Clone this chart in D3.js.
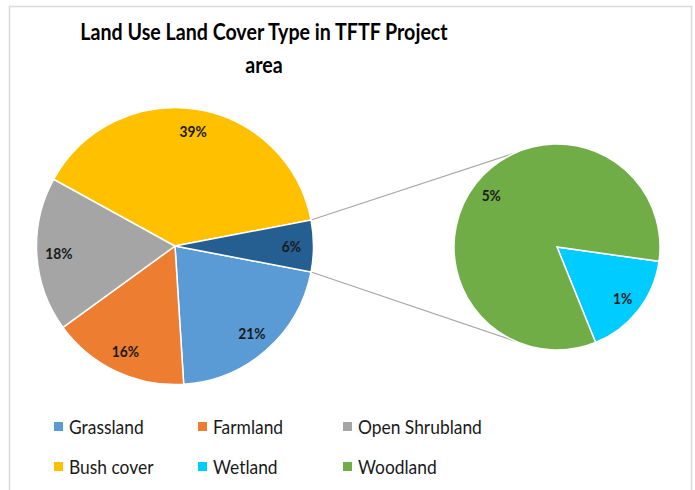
<!DOCTYPE html>
<html>
<head>
<meta charset="utf-8">
<script src="https://cdn.jsdelivr.net/npm/d3@7"></script>
<style>
  html, body { margin: 0; padding: 0; background: #fff; }
  svg { display: block; }
</style>
</head>
<body>
<svg id="chart" width="695" height="490"></svg>
<script>
// Land use categories shown in the main pie (the last one is the combined "other" slice)
const mainCategories = ["Grassland", "Farmland", "Open Shrubland", "Bush cover", "Other"];
const mainValues = [21, 16, 18, 39, 6];
// Categories split out into the secondary pie
const subCategories = ["Wetland", "Woodland"];
const subValues = [1, 5];
// Legend entries, in display order
const legendItems = ["Grassland", "Farmland", "Open Shrubland", "Bush cover", "Wetland", "Woodland"];

const colors = {
  "Grassland": "#5B9BD5",
  "Farmland": "#ED7D31",
  "Open Shrubland": "#A5A5A5",
  "Bush cover": "#FFC000",
  "Other": "#255E91",
  "Wetland": "#00CCFF",
  "Woodland": "#70AD47"
};

const svg = d3.select("#chart");
const FONT = "Lato, 'Open Sans', sans-serif";

// squeeze a text element horizontally to give it a narrower, condensed look
function condense(sel, factor) {
  sel.each(function () {
    const w = this.getComputedTextLength();
    d3.select(this).attr("textLength", w * factor).attr("lengthAdjust", "spacingAndGlyphs");
  });
}

// outer frame
svg.append("rect")
  .attr("x", 9.5).attr("y", 6.5)
  .attr("width", 682).attr("height", 500)
  .attr("fill", "#fff")
  .attr("stroke", "#d9d9d9").attr("stroke-width", 1.5);

// title
const title = svg.append("text")
  .attr("text-anchor", "middle")
  .attr("font-family", FONT)
  .attr("font-weight", "bold")
  .attr("font-size", 23.5)
  .attr("fill", "#000");
const t1 = title.append("tspan").attr("x", 264).attr("y", 40).text("Land Use Land Cover Type in TFTF Project");
const t2 = title.append("tspan").attr("x", 264).attr("y", 73).text("area");
condense(t1, 0.835);
condense(t2, 0.835);

const deg = Math.PI / 180;

// main pie
const main = { cx: 175, cy: 246, r: 138.5 };
const mainStart = 100.8 * deg;
const mainPie = d3.pie().sort(null).value(d => d.value)
  .startAngle(mainStart).endAngle(mainStart + 2 * Math.PI);
const mainArcs = mainPie(mainCategories.map((c, i) => ({ name: c, value: mainValues[i] })));
const mainArc = d3.arc().innerRadius(0).outerRadius(main.r);
const mainLabelArc = d3.arc().innerRadius(main.r * 0.84).outerRadius(main.r * 0.84);

// secondary pie
const sub = { cx: 557, cy: 247, r: 103 };
const subStart = 98 * deg;
const subPie = d3.pie().sort(null).value(d => d.value)
  .startAngle(subStart).endAngle(subStart + 2 * Math.PI);
const subArcs = subPie(subCategories.map((c, i) => ({ name: c, value: subValues[i] })));
const subArc = d3.arc().innerRadius(0).outerRadius(sub.r);
const subLabelArc = d3.arc().innerRadius(sub.r * 0.81).outerRadius(sub.r * 0.81);

// connector lines from the "other" slice edges to the secondary pie
const other = mainArcs[mainArcs.length - 1];
const pt = (cx, cy, r, a) => [cx + r * Math.sin(a), cy - r * Math.cos(a)];
const conn = [
  [pt(main.cx, main.cy, main.r, other.startAngle), pt(sub.cx, sub.cy, sub.r, -24 * deg)],
  [pt(main.cx, main.cy, main.r, other.endAngle), pt(sub.cx, sub.cy, sub.r, 204 * deg)]
];
svg.append("g").selectAll("line").data(conn).join("line")
  .attr("x1", d => d[0][0]).attr("y1", d => d[0][1])
  .attr("x2", d => d[1][0]).attr("y2", d => d[1][1])
  .attr("stroke", "#a6a6a6").attr("stroke-width", 1.2);

const gMain = svg.append("g").attr("transform", `translate(${main.cx},${main.cy})`);
gMain.selectAll("path").data(mainArcs).join("path")
  .attr("d", mainArc)
  .attr("fill", d => colors[d.data.name])
  .attr("stroke", "#fff").attr("stroke-width", 1.5);
gMain.selectAll("text").data(mainArcs).join("text")
  .attr("transform", d => `translate(${mainLabelArc.centroid(d)})`)
  .attr("text-anchor", "middle").attr("dy", "0.35em")
  .attr("font-family", FONT).attr("font-weight", "bold").attr("font-size", 16)
  .attr("fill", "#1a1a1a")
  .text(d => d.data.value + "%")
  .call(condense, 0.86);

const gSub = svg.append("g").attr("transform", `translate(${sub.cx},${sub.cy})`);
gSub.selectAll("path").data(subArcs).join("path")
  .attr("d", subArc)
  .attr("fill", d => colors[d.data.name])
  .attr("stroke", "#fff").attr("stroke-width", 1.5);
gSub.selectAll("text").data(subArcs).join("text")
  .attr("transform", d => `translate(${subLabelArc.centroid(d)})`)
  .attr("text-anchor", "middle").attr("dy", "0.35em")
  .attr("font-family", FONT).attr("font-weight", "bold").attr("font-size", 16)
  .attr("fill", "#1a1a1a")
  .text(d => d.data.value + "%")
  .call(condense, 0.86);

// legend: three columns, two rows
const colX = [54, 198, 343];
const rowY = [427, 467];
const leg = svg.append("g").selectAll("g").data(legendItems).join("g")
  .attr("transform", (d, i) => `translate(${colX[i % 3]},${rowY[Math.floor(i / 3)]})`);
leg.append("rect")
  .attr("x", 0).attr("y", -5).attr("width", 9).attr("height", 9)
  .attr("fill", d => colors[d]);
leg.append("text")
  .attr("x", 15).attr("dy", "0.35em")
  .attr("font-family", FONT).attr("font-size", 20)
  .attr("fill", "#1a1a1a")
  .text(d => d)
  .call(condense, 0.87);
</script>
</body>
</html>
